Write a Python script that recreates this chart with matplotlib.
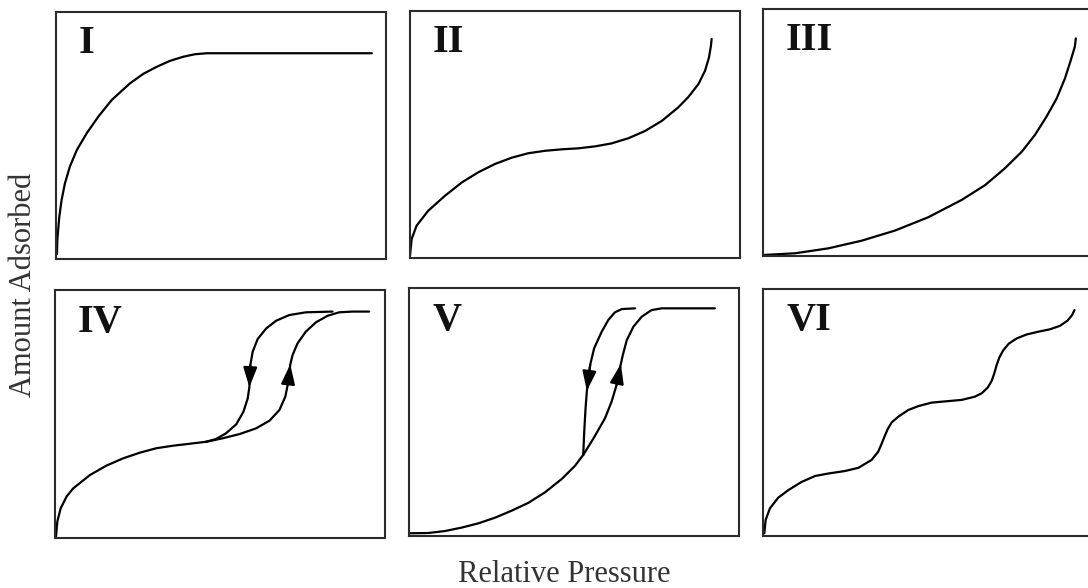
import matplotlib
matplotlib.use("Agg")
import matplotlib.pyplot as plt

# ---------------- data (relative pressure p, amount adsorbed n; normalised 0-1) ----------------
panel_labels = ["I", "II", "III", "IV", "V", "VI"]
x_label = "Relative Pressure"
y_label = "Amount Adsorbed"

type1_p = [0.003, 0.004, 0.010, 0.017, 0.027, 0.042, 0.063, 0.093, 0.128, 0.169, 0.224, 0.265,
           0.305, 0.345, 0.386, 0.421, 0.457, 0.957]
type1_n = [0.020, 0.077, 0.171, 0.239, 0.306, 0.374, 0.441, 0.509, 0.576, 0.644, 0.711, 0.750,
           0.778, 0.802, 0.819, 0.829, 0.833, 0.833]

type2_p = [0.000, 0.005, 0.020, 0.055, 0.106, 0.157, 0.207, 0.258, 0.308, 0.358, 0.409, 0.460,
           0.510, 0.561, 0.611, 0.662, 0.712, 0.763, 0.813, 0.843, 0.874, 0.894, 0.906, 0.912, 0.914]
type2_n = [0.009, 0.077, 0.131, 0.191, 0.252, 0.306, 0.347, 0.381, 0.406, 0.424, 0.434, 0.440,
           0.444, 0.452, 0.464, 0.485, 0.514, 0.555, 0.610, 0.651, 0.704, 0.758, 0.812, 0.860, 0.887]

type3_p = [0.001, 0.097, 0.198, 0.299, 0.400, 0.501, 0.602, 0.673, 0.733, 0.784, 0.824, 0.859,
           0.890, 0.915, 0.933, 0.945, 0.948]
type3_n = [0.004, 0.011, 0.031, 0.062, 0.103, 0.157, 0.227, 0.287, 0.355, 0.422, 0.490, 0.564,
           0.638, 0.719, 0.794, 0.848, 0.881]

# Type IV: common low-pressure part, adsorption branch (up) and desorption branch (down)
type4_p = [0.003, 0.007, 0.017, 0.035, 0.055, 0.106, 0.156, 0.206, 0.257, 0.307, 0.357, 0.408, 0.458]
type4_n = [0.005, 0.066, 0.119, 0.167, 0.200, 0.254, 0.292, 0.321, 0.344, 0.362, 0.372, 0.380, 0.388]
type4_ads_p = [0.458, 0.508, 0.559, 0.609, 0.650, 0.680, 0.698, 0.707, 0.713, 0.720, 0.735, 0.760,
               0.791, 0.826, 0.861, 0.901, 0.952]
type4_ads_n = [0.388, 0.402, 0.419, 0.442, 0.473, 0.516, 0.570, 0.630, 0.700, 0.738, 0.785, 0.832,
               0.870, 0.896, 0.910, 0.913, 0.913]
type4_des_p = [0.841, 0.760, 0.710, 0.670, 0.640, 0.614, 0.599, 0.592, 0.589, 0.584, 0.571, 0.549,
               0.518, 0.488, 0.458]
type4_des_n = [0.913, 0.910, 0.899, 0.876, 0.845, 0.802, 0.751, 0.698, 0.608, 0.563, 0.509, 0.458,
               0.422, 0.399, 0.388]

# Type V
type5_p = [0.000, 0.058, 0.109, 0.160, 0.210, 0.261, 0.311, 0.362, 0.412, 0.463, 0.503, 0.528]
type5_n = [0.011, 0.012, 0.020, 0.034, 0.051, 0.074, 0.102, 0.134, 0.176, 0.230, 0.283, 0.327]
type5_ads_p = [0.528, 0.561, 0.594, 0.614, 0.629, 0.642, 0.648, 0.660, 0.680, 0.705, 0.735, 0.766, 0.927]
type5_ads_n = [0.327, 0.398, 0.475, 0.542, 0.609, 0.694, 0.730, 0.790, 0.844, 0.884, 0.911, 0.918, 0.918]
type5_des_p = [0.685, 0.645, 0.624, 0.604, 0.584, 0.561, 0.549, 0.539, 0.535, 0.531, 0.528]
type5_des_n = [0.918, 0.915, 0.902, 0.871, 0.824, 0.757, 0.690, 0.585, 0.515, 0.421, 0.327]

# Type VI (stepwise)
type6_p = [0.004, 0.008, 0.021, 0.046, 0.077, 0.117, 0.158, 0.198, 0.248, 0.289, 0.329, 0.349,
           0.360, 0.368, 0.378, 0.390, 0.410, 0.440, 0.471, 0.511, 0.552, 0.602, 0.642, 0.663,
           0.681, 0.693, 0.701, 0.708, 0.716, 0.728, 0.745, 0.769, 0.799, 0.834, 0.870, 0.900,
           0.923, 0.937, 0.944]
type6_n = [0.011, 0.065, 0.112, 0.155, 0.186, 0.219, 0.243, 0.253, 0.263, 0.276, 0.308, 0.341,
           0.375, 0.402, 0.433, 0.460, 0.483, 0.510, 0.526, 0.540, 0.545, 0.551, 0.564, 0.578,
           0.601, 0.628, 0.659, 0.692, 0.722, 0.752, 0.779, 0.800, 0.816, 0.827, 0.837, 0.851,
           0.872, 0.895, 0.915]

# ---------------- figure ----------------
W, H = 1088, 588
fig = plt.figure(figsize=(W / 100, H / 100), dpi=100)

# panel boxes in pixels: (left, top, bottom)
boxes = [(56, 12, 259), (410, 11, 258), (763, 9, 256),
         (55, 290, 538), (409, 288, 536), (763, 289, 536)]
PW = 330

LW = 1.6
FRAME = "#2b2b2b"
axes = []
for (l, t, b) in boxes:
    ax = fig.add_axes([l / W, 1 - b / H, PW / W, (b - t) / H])
    ax.set_xlim(0, 1)
    ax.set_ylim(0, 1)
    ax.set_xticks([])
    ax.set_yticks([])
    for s in ax.spines.values():
        s.set_linewidth(1.5)
        s.set_color(FRAME)
    axes.append(ax)

def arrow(ax, px, py, i):
    ax.annotate("", xy=(px[i + 1], py[i + 1]), xytext=(px[i], py[i]),
                arrowprops=dict(arrowstyle="-|>,head_length=1.2,head_width=0.42",
                                color="black", lw=LW, shrinkA=0, shrinkB=0))

kw = dict(color="black", lw=LW, solid_capstyle="round", solid_joinstyle="round")
axes[0].plot(type1_p, type1_n, **kw)
axes[1].plot(type2_p, type2_n, **kw)
axes[2].plot(type3_p, type3_n, **kw)

axes[3].plot(type4_p, type4_n, **kw)
axes[3].plot(type4_ads_p, type4_ads_n, **kw)
axes[3].plot(type4_des_p, type4_des_n, **kw)
arrow(axes[3], type4_ads_p, type4_ads_n, 7)
arrow(axes[3], type4_des_p, type4_des_n, 7)

axes[4].plot(type5_p, type5_n, **kw)
axes[4].plot(type5_ads_p, type5_ads_n, **kw)
axes[4].plot(type5_des_p, type5_des_n, **kw)
arrow(axes[4], type5_ads_p, type5_ads_n, 4)
arrow(axes[4], type5_des_p, type5_des_n, 6)

axes[5].plot(type6_p, type6_n, **kw)

for ax, lab in zip(axes, panel_labels):
    ax.text(0.07, 0.832, lab, transform=ax.transAxes, ha="left", va="baseline",
            fontsize=29, fontweight="bold", family="Liberation Serif", color="#111111")

fig.text(564 / W, 1 - 582 / H, x_label, ha="center", va="baseline",
         fontsize=22, family="Liberation Serif", color="#333333")
fig.text(24 / W, 1 - 285 / H, y_label, ha="center", va="center", rotation=90,
         fontsize=22, family="Liberation Serif", color="#333333")

fig.savefig("out.png", dpi=100)
